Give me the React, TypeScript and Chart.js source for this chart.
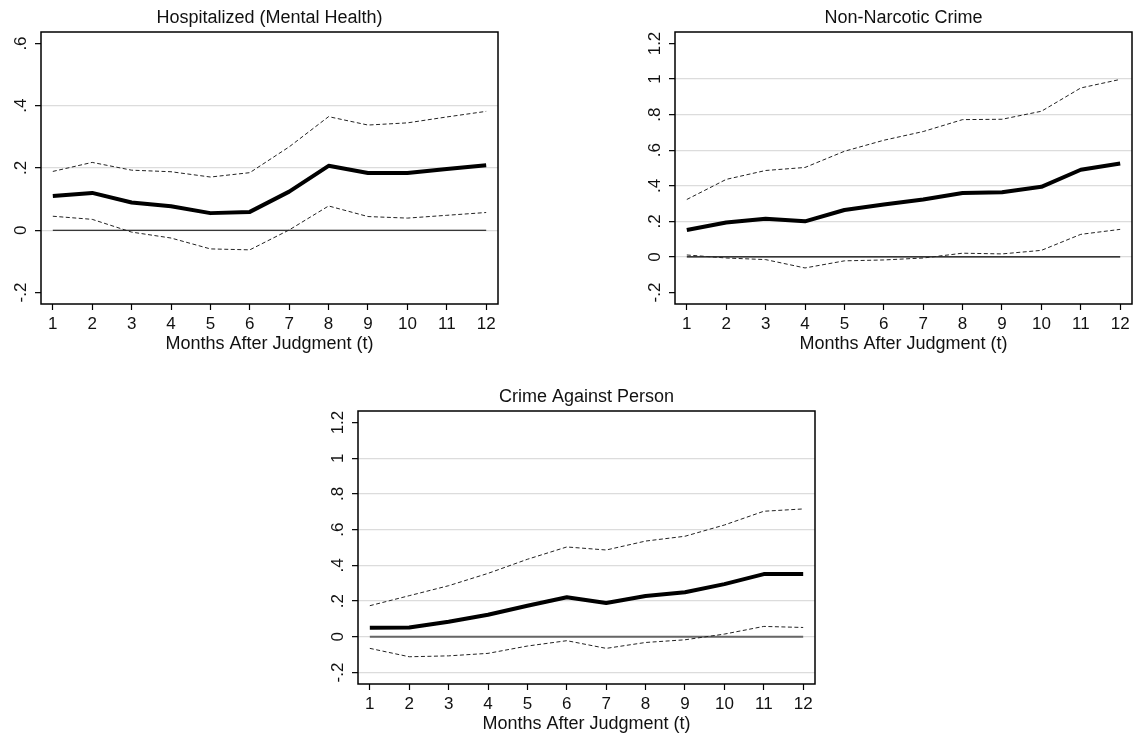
import React, { useEffect, useRef } from "react";
import { Chart, registerables } from "chart.js";

Chart.register(...registerables);

// ---------- data ----------
const months = [1, 2, 3, 4, 5, 6, 7, 8, 9, 10, 11, 12];
const xTickLabels = ["1", "2", "3", "4", "5", "6", "7", "8", "9", "10", "11", "12"];
const xAxisTitle = "Months After Judgment (t)";

const hospTitle = "Hospitalized (Mental Health)";
const hospEst = [0.110, 0.120, 0.089, 0.077, 0.055, 0.059, 0.124, 0.207, 0.184, 0.184, 0.197, 0.209];
const hospUpper = [0.189, 0.218, 0.193, 0.188, 0.171, 0.185, 0.268, 0.365, 0.338, 0.345, 0.364, 0.382];
const hospLower = [0.045, 0.035, -0.006, -0.025, -0.060, -0.063, 0.001, 0.078, 0.044, 0.039, 0.048, 0.057];
const hospYTicks = [-0.2, 0, 0.2, 0.4, 0.6];
const hospYTickLabels = ["-.2", "0", ".2", ".4", ".6"];
const hospGrid = [0, 0.2, 0.4];

const nncTitle = "Non-Narcotic Crime";
const nncEst = [0.151, 0.194, 0.215, 0.200, 0.264, 0.295, 0.323, 0.359, 0.364, 0.394, 0.490, 0.525];
const nncUpper = [0.323, 0.436, 0.486, 0.503, 0.594, 0.656, 0.705, 0.772, 0.774, 0.819, 0.950, 0.998];
const nncLower = [0.011, -0.006, -0.015, -0.062, -0.022, -0.017, -0.006, 0.021, 0.017, 0.037, 0.127, 0.155];

const capTitle = "Crime Against Person";
const capEst = [0.050, 0.052, 0.084, 0.123, 0.174, 0.221, 0.189, 0.228, 0.249, 0.295, 0.351, 0.351];
const capUpper = [0.174, 0.230, 0.286, 0.355, 0.434, 0.503, 0.486, 0.536, 0.563, 0.626, 0.703, 0.716];
const capLower = [-0.065, -0.112, -0.107, -0.093, -0.052, -0.022, -0.065, -0.032, -0.017, 0.015, 0.058, 0.052];

const crimeYTicks = [-0.2, 0, 0.2, 0.4, 0.6, 0.8, 1, 1.2];
const crimeYTickLabels = ["-.2", "0", ".2", ".4", ".6", ".8", "1", "1.2"];
const nncGrid = [0, 0.2, 0.4, 0.6, 0.8, 1];
const capGrid = [-0.2, 0, 0.2, 0.4, 0.6, 0.8, 1];

const zeroRef = [0, 0];
const zeroRefX = [1, 12];

// ---------- styling ----------
const FONT = 'Arial, "Liberation Sans", Helvetica, sans-serif';
const TEXT = "#111";

type PanelProps = {
  title: string;
  est: number[];
  upper: number[];
  lower: number[];
  yTicks: number[];
  yLabels: string[];
  grid: number[];
  yMin: number;
  yMax: number;
  zeroColor: string;
  zeroWidth: number;
  pos: { left: number; top: number; w: number; h: number };
  area: { l: number; t: number; r: number; b: number };
};

function Panel(p: PanelProps) {
  const ref = useRef<HTMLCanvasElement | null>(null);
  useEffect(() => {
    if (!ref.current) return;
    const pts = (arr: number[]) => months.map((m, i) => ({ x: m, y: arr[i] }));
    const frame = {
      id: "frame",
      afterDraw(chart: any) {
        const ctx = chart.ctx;
        const a = chart.chartArea;
        ctx.save();
        ctx.strokeStyle = "#000";
        ctx.lineWidth = 1.5;
        ctx.strokeRect(a.left, a.top, a.right - a.left, a.bottom - a.top);
        ctx.fillStyle = TEXT;
        // title
        ctx.font = `18px ${FONT}`;
        ctx.textAlign = "center";
        ctx.textBaseline = "alphabetic";
        ctx.fillText(p.title, (a.left + a.right) / 2, a.top - 9);
        // x axis title
        ctx.fillText(xAxisTitle, (a.left + a.right) / 2, a.bottom + 45);
        // rotated y labels
        const ys = chart.scales.y;
        ctx.font = `17px ${FONT}`;
        ys.ticks.forEach((t: any, i: number) => {
          const py = ys.getPixelForValue(t.value);
          ctx.save();
          ctx.translate(a.left - 21.5, py);
          ctx.rotate(-Math.PI / 2);
          ctx.textAlign = "center";
          ctx.textBaseline = "alphabetic";
          ctx.fillText(p.yLabels[i], 0, 6.1);
          ctx.restore();
        });
        ctx.restore();
      },
    };
    const chart = new Chart(ref.current, {
      type: "line",
      data: {
        datasets: [
          {
            data: pts(p.est),
            borderColor: "#000",
            borderWidth: 4,
            pointRadius: 0,
            tension: 0,
            borderJoinStyle: "round",
          },
          {
            data: pts(p.upper),
            borderColor: "#222",
            borderWidth: 1,
            borderDash: [4, 2.5],
            pointRadius: 0,
            tension: 0,
          },
          {
            data: pts(p.lower),
            borderColor: "#222",
            borderWidth: 1,
            borderDash: [4, 2.5],
            pointRadius: 0,
            tension: 0,
          },
          {
            data: zeroRefX.map((x, i) => ({ x, y: zeroRef[i] })),
            borderColor: p.zeroColor,
            borderWidth: p.zeroWidth,
            pointRadius: 0,
          },
        ],
      } as any,
      options: {
        animation: false,
        responsive: false,
        maintainAspectRatio: false,
        events: [],
        layout: { padding: { left: 0, top: p.area.t, right: p.pos.w - p.area.r, bottom: 0 } },
        plugins: {
          legend: { display: false },
          tooltip: { enabled: false },
          title: { display: false },
        },
        scales: {
          x: {
            type: "linear",
            min: 0.7,
            max: 12.3,
            afterBuildTicks: (s: any) => {
              s.ticks = months.map((v) => ({ value: v }));
            },
            afterFit: (s: any) => {
              s.height = p.pos.h - p.area.b;
            },
            ticks: {
              autoSkip: false,
              maxRotation: 0,
              minRotation: 0,
              padding: 4,
              color: TEXT,
              font: { family: FONT, size: 17 },
              callback: (_v: any, i: number) => xTickLabels[i],
            },
            grid: {
              drawOnChartArea: false,
              drawTicks: true,
              tickLength: 6,
              tickColor: "#000",
              tickWidth: 1.2,
            },
            border: { display: false },
          },
          y: {
            type: "linear",
            min: p.yMin,
            max: p.yMax,
            afterBuildTicks: (s: any) => {
              s.ticks = p.yTicks.map((v) => ({ value: v }));
            },
            afterFit: (s: any) => {
              s.width = p.area.l;
            },
            ticks: { display: false },
            grid: {
              color: (c: any) =>
                c.tick && p.grid.includes(c.tick.value) ? "#dcdcdc" : "rgba(0,0,0,0)",
              lineWidth: 1.3,
              drawTicks: true,
              tickLength: 6,
              tickColor: "#000",
              tickWidth: 1.2,
            },
            border: { display: false },
          },
        },
      } as any,
      plugins: [frame],
    });
    return () => chart.destroy();
  }, []);
  return (
    <canvas
      ref={ref}
      width={p.pos.w}
      height={p.pos.h}
      style={{
        position: "absolute",
        left: p.pos.left,
        top: p.pos.top,
        width: p.pos.w,
        height: p.pos.h,
        display: "block",
      }}
    />
  );
}

export default function App() {
  return (
    <div
      style={{
        position: "absolute",
        left: 0,
        top: 0,
        width: 1137,
        height: 736,
        background: "#fff",
        overflow: "hidden",
      }}
    >
      <Panel
        title={hospTitle}
        est={hospEst}
        upper={hospUpper}
        lower={hospLower}
        yTicks={hospYTicks}
        yLabels={hospYTickLabels}
        grid={hospGrid}
        yMin={-0.237}
        yMax={0.637}
        zeroColor="#000"
        zeroWidth={1.2}
        pos={{ left: 0, top: 0, w: 540, h: 360 }}
        area={{ l: 41, t: 32, r: 498, b: 304 }}
      />
      <Panel
        title={nncTitle}
        est={nncEst}
        upper={nncUpper}
        lower={nncLower}
        yTicks={crimeYTicks}
        yLabels={crimeYTickLabels}
        grid={nncGrid}
        yMin={-0.2646}
        yMax={1.2646}
        zeroColor="#000"
        zeroWidth={1.2}
        pos={{ left: 580, top: 0, w: 557, h: 360 }}
        area={{ l: 95, t: 32, r: 552, b: 304 }}
      />
      <Panel
        title={capTitle}
        est={capEst}
        upper={capUpper}
        lower={capLower}
        yTicks={crimeYTicks}
        yLabels={crimeYTickLabels}
        grid={capGrid}
        yMin={-0.2646}
        yMax={1.2646}
        zeroColor="#666"
        zeroWidth={2}
        pos={{ left: 300, top: 380, w: 540, h: 356 }}
        area={{ l: 58, t: 31, r: 515, b: 304 }}
      />
    </div>
  );
}
